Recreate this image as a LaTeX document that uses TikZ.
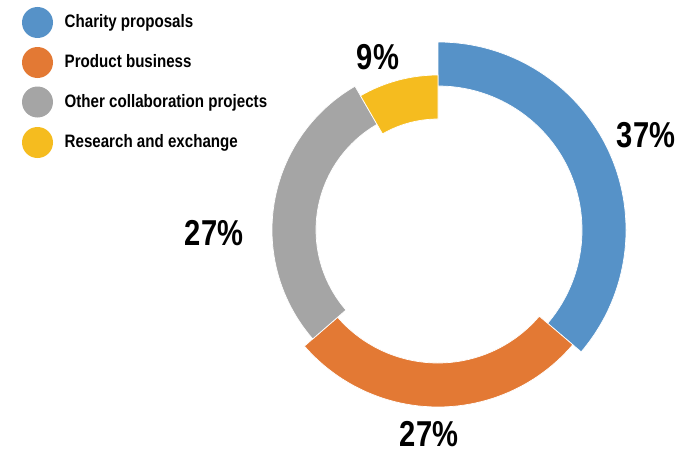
\documentclass[tikz,border=0pt]{standalone}
\usepackage{fontspec}
\setmainfont{Liberation Sans}
\newfontfamily\legfont{Liberation Sans}[FakeStretch=0.84]
\newfontfamily\bigfont{Liberation Sans}[FakeStretch=0.81]
\definecolor{cblue}{HTML}{5692C8}
\definecolor{corange}{HTML}{E37934}
\definecolor{cgray}{HTML}{A5A5A5}
\definecolor{cyellow}{HTML}{F5BC1F}
\tikzset{
  legdot/.style={circle,minimum size=31pt,inner sep=0pt},
  legtext/.style={anchor=base west,inner sep=0pt,font=\legfont\bfseries\fontsize{18}{20}\selectfont},
  pct/.style={inner sep=0pt,font=\bigfont\bfseries\fontsize{36}{40}\selectfont},
  seg/.style={draw=white,line width=0.7pt}
}
\begin{document}
\begin{tikzpicture}[x=1pt,y=1pt]
\useasboundingbox (0,0) rectangle (700,451);
% legend
\node[legdot,fill=cblue] (d1) at (37.5,428.5) {};
\node[legdot,fill=corange] (d2) at (37.5,388.5) {};
\node[legdot,fill=cgray] (d3) at (37.5,349) {};
\node[legdot,fill=cyellow] (d4) at (37.5,308.5) {};
\node[legtext] (t1) at (64.5,424) {Charity proposals};
\node[legtext] (t2) at (64.5,384) {Product business};
\node[legtext] (t3) at (64.5,344) {Other collaboration projects};
\node[legtext] (t4) at (64.5,304) {Research and exchange};
% ring
\begin{scope}[shift={(438,221)}]
\fill[cblue,seg] (90:188) arc[start angle=90,end angle=-40.4,radius=188] -- (-40.4:144) arc[start angle=-40.4,end angle=90,radius=144] -- cycle;
\fill[corange,seg] (-40.4:177) arc[start angle=-40.4,end angle=-139,radius=177] -- (-139:133) arc[start angle=-139,end angle=-40.4,radius=133] -- cycle;
\fill[cgray,seg] (-139:166) arc[start angle=-139,end angle=-240,radius=166] -- (-240:122) arc[start angle=-240,end angle=-139,radius=122] -- cycle;
\fill[cyellow,seg] (120:155) arc[start angle=120,end angle=90,radius=155] -- (90:111) arc[start angle=90,end angle=120,radius=111] -- cycle;
\end{scope}
% labels
\node[pct] (p1) at (646,316) {37\%};
\node[pct] (p2) at (429,17) {27\%};
\node[pct] (p3) at (214,217.5) {27\%};
\node[pct] (p4) at (378,394) {9\%};
\end{tikzpicture}
\end{document}
